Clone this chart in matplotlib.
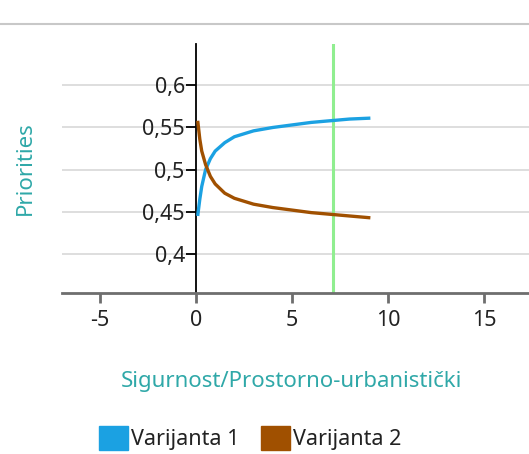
import matplotlib
matplotlib.use("Agg")
import matplotlib.pyplot as plt
from matplotlib.patches import Patch
from matplotlib.lines import Line2D

plt.rcParams['font.family'] = ['Noto Sans', 'DejaVu Sans']
plt.rcParams['axes.unicode_minus'] = False

# podaci
x = [0.1, 0.2, 0.3, 0.5, 0.75, 1, 1.5, 2, 3, 4, 5, 6, 7, 8, 9]
varijanta1 = [0.447, 0.465, 0.480, 0.500, 0.513, 0.522, 0.532, 0.539, 0.546, 0.550, 0.553, 0.556, 0.558, 0.560, 0.561]
varijanta2 = [0.556, 0.536, 0.522, 0.506, 0.492, 0.483, 0.472, 0.466, 0.459, 0.455, 0.452, 0.449, 0.447, 0.445, 0.443]
serije = ['Varijanta 1', 'Varijanta 2']
boje = ['#1ba1e2', '#a05000']
trenutno = 7.15

xticks = [-5, 0, 5, 10, 15]
yticks = [0.4, 0.45, 0.5, 0.55, 0.6]
ytick_labels = ['0,4', '0,45', '0,5', '0,55', '0,6']

fig = plt.figure(figsize=(5.29, 4.54), dpi=100)
ax = fig.add_axes([62 / 529, 0.3546, 1 - 62 / 529, 0.903 - 0.3546])

ax.plot(x, varijanta1, color=boje[0], linewidth=2.4, zorder=3)
ax.plot(x, varijanta2, color=boje[1], linewidth=2.4, zorder=3)
ax.axvline(trenutno, color='#90ee90', linewidth=2.2, zorder=2)

ax.set_xlim(-6.98, 17.35)
ax.set_ylim(0.3536, 0.649)

ax.set_xticks(xticks)
ax.set_xticklabels([str(t) for t in xticks])
ax.set_yticks(yticks)
ax.set_yticklabels(ytick_labels)

# osi
for s in ['top', 'right']:
    ax.spines[s].set_visible(False)
ax.spines['left'].set_position(('data', 0))
ax.spines['left'].set_color('black')
ax.spines['left'].set_linewidth(1.3)
ax.spines['bottom'].set_color('#6e6e6e')
ax.spines['bottom'].set_linewidth(2)

tekst = '#222222'
ax.tick_params(axis='y', length=7, width=1.3, color='black', labelsize=15.5,
               labelcolor=tekst, pad=1)
ax.tick_params(axis='x', length=7, width=2, color='#6e6e6e', labelsize=15.5,
               labelcolor=tekst, pad=5)

ax.grid(axis='y', color='#d8d8d8', linewidth=1.2)
ax.set_axisbelow(True)

# naslovi osi
teal = '#2fa8a8'
fig.text(25 / 529, 1 - 168 / 454, 'Priorities', rotation=90, color=teal,
         fontsize=16, ha='center', va='center')
fig.text(292 / 529, 1 - 381 / 454, 'Sigurnost/Prostorno-urbanistički', color=teal,
         fontsize=16, ha='center', va='center')

# gornja linija
fig.add_artist(Line2D([0, 1], [1 - 24 / 454, 1 - 24 / 454], color='#c8c8c8', linewidth=1.5))

# legenda
handles = [Patch(facecolor=c, edgecolor=c) for c in boje]
fig.legend(handles, serije, loc='center', bbox_to_anchor=(250 / 529, 1 - 438 / 454),
           ncol=2, frameon=False, fontsize=15.5, handlelength=1.35, handleheight=1.35,
           handletextpad=0.15, columnspacing=1.0, labelcolor=tekst)

fig.savefig('out.png', dpi=100)
